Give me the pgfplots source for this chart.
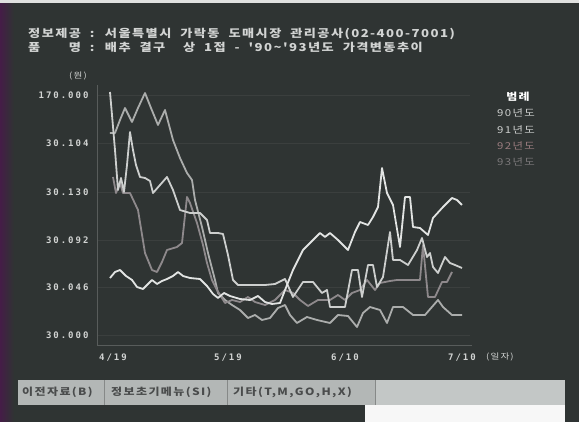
\documentclass[border=0pt]{standalone}
\usepackage{fontspec}
\usepackage{pgfplots}
\pgfplotsset{compat=1.18}
\newfontfamily\kr[FakeStretch=1.2,LetterSpace=14]{Noto Sans CJK KR}
\newfontfamily\krt[FakeStretch=1.2,LetterSpace=13,WordSpace=2.0]{Noto Sans CJK KR}
\newfontfamily\mono[LetterSpace=22]{DejaVu Sans Mono}
\definecolor{bg}{HTML}{2F3433}
\definecolor{txt}{HTML}{D2D4D3}
\definecolor{gridc}{HTML}{3B3F3E}
\definecolor{axc}{HTML}{585C5B}
\definecolor{cA}{HTML}{E2E4E3}
\definecolor{cB}{HTML}{CDCFCE}
\definecolor{cC}{HTML}{8E898C}
\definecolor{cD}{HTML}{ABADAC}
\definecolor{barc}{HTML}{B3B7B6}
\definecolor{barc2}{HTML}{C3C7C6}
\definecolor{bartxt}{HTML}{4A4C4C}
\newlength{\mylen}
\begin{document}
\begin{tikzpicture}[x=1pt,y=1pt]
\fill[bg] (0,0) rectangle (579,422);
\shade[left color=black!25!violet!45!bg, right color=bg] (0,0) rectangle (14,422);
\fill[white!85!bg] (0,419) rectangle (579,422);
% titles
\node[anchor=base west, inner sep=0, text=txt, font=\krt\bfseries\fontsize{11}{12}\selectfont] at (28,384)
  {정보제공 : 서울특별시 가락동 도매시장 관리공사(02-400-7001)};
\node[anchor=base west, inner sep=0, text=txt, font=\krt\bfseries\fontsize{11}{12}\selectfont] at (28,370)
  {\settowidth{\mylen}{정보제공}\makebox[\mylen][s]{품\hfill 명} : 배추 결구\ \ 상 1접 - '90\textasciitilde'93년도 가격변동추이};
\node[anchor=center, text=txt, font=\kr\fontsize{8}{9}\selectfont] at (78,346) {(원)};
\begin{axis}[
  at={(97pt,77pt)}, anchor=south west, scale only axis,
  width=373pt, height=260pt,
  xmin=97, xmax=470, ymin=85, ymax=345, y dir=reverse,
  axis line style={draw=none},
  major tick length=0pt,
  ytick={95,143,192,240,287,335},
  yticklabels={170.000,30.104,30.130,30.092,30.046,30.000},
  xtick={113,228,345,462},
  xticklabels={4/19,5/19,6/10,7/10},
  tick label style={font=\mono\bfseries\fontsize{9}{10}\selectfont, text=txt},
  yticklabel style={xshift=-5pt},
  xticklabel style={yshift=-5pt},
  ymajorgrids, grid style={gridc, line width=0.5pt},
  clip=false,
  every axis plot/.append style={line width=1.8pt, line join=round, mark=none},
]
% 93
\addplot[cD] coordinates {(110,133) (115,133) (120,120) (125,108) (132,122) (138,108) (145,93) (151,108) (158,125) (165,110) (173,140) (180,158) (187,173) (192,180) (195,200) (202,227) (208,253) (215,280) (218,293) (225,300) (232,305) (240,310) (248,318) (255,315) (262,320) (270,318) (278,308) (285,305) (290,315) (297,323) (307,317) (317,320) (330,323) (338,315) (348,316) (357,327) (363,313) (370,307) (380,310) (387,323) (393,307) (403,307) (413,315) (425,315) (438,300) (443,307) (452,315) (462,315)};
% 92
\addplot[cC] coordinates {(113,177) (116,193) (120,183) (123,193) (130,193) (138,210) (145,253) (152,270) (157,272) (162,262) (167,250) (177,247) (182,243) (187,197) (190,203) (197,223) (203,245) (207,263) (212,280) (217,290) (225,303) (232,300) (240,302) (248,297) (255,302) (265,305) (275,300) (285,290) (293,293) (300,300) (308,306) (318,300) (330,300) (338,295) (345,300) (352,293) (360,290) (367,280) (375,290) (380,283) (390,281) (397,280) (420,280) (423,245) (428,297) (435,297) (442,282) (447,282) (452,272)};
% 91
\addplot[cB] coordinates {(110,92) (112,115) (115,150) (118,190) (121,178) (124,192) (127,165) (130,132) (133,150) (136,165) (140,177) (145,178) (150,181) (153,193) (160,185) (167,177) (173,190) (180,210) (190,213) (200,213) (207,220) (210,233) (218,233) (223,234) (228,255) (233,280) (238,285) (245,285) (255,285) (265,285) (275,284) (285,279) (293,297) (303,282) (313,282) (322,293) (327,290) (330,307) (345,307) (352,270) (358,270) (362,297) (368,265) (373,265) (377,287) (383,277) (390,232) (393,260) (400,260) (408,265) (417,250) (422,238) (427,257) (430,253) (433,267) (438,273) (445,257) (450,263) (455,265) (462,268)};
% 90
\addplot[cA] coordinates {(110,278) (115,272) (120,270) (126,276) (132,280) (137,287) (143,289) (148,284) (152,280) (157,284) (162,281) (167,279) (173,276) (178,272) (183,276) (190,278) (200,279) (207,286) (213,294) (218,298) (224,293) (230,296) (240,299) (250,300) (258,296) (265,302) (272,304) (280,303) (287,285) (293,270) (303,250) (313,240) (320,233) (325,237) (330,233) (338,240) (348,250) (355,232) (360,222) (368,225) (373,217) (378,207) (382,168) (387,193) (393,205) (400,247) (405,197) (410,197) (413,227) (420,228) (428,235) (433,218) (443,207) (452,198) (457,200) (462,205)};
\end{axis}
% axis lines
\draw[axc, line width=0.8pt] (97,77) -- (97,337);
\draw[axc, line width=0.8pt] (97,77) -- (472,77);
\node[anchor=base west, inner sep=0, text=txt, font=\kr\fontsize{8}{9}\selectfont] at (486,62) {(일자)};
% legend
\node[text=white, font=\kr\bfseries\fontsize{10}{11}\selectfont] at (518,325) {범례};
\node[text=cB, font=\kr\fontsize{9.5}{11}\selectfont] at (516,309) {90년도};
\node[text=cB, font=\kr\fontsize{9.5}{11}\selectfont] at (516,292) {91년도};
\node[text=cC!90!red, font=\kr\fontsize{9.5}{11}\selectfont] at (516,276) {92년도};
\node[text=cC!80!bg, font=\kr\fontsize{9.5}{11}\selectfont] at (516,260) {93년도};
% bottom menu bar
\fill[barc] (18,17) rectangle (565,42);
\fill[barc2] (375,17) rectangle (565,42);
\draw[barc!75!black, line width=0.8pt] (104,17) -- (104,42);
\draw[barc!75!black, line width=0.8pt] (227,17) -- (227,42);
\draw[barc!75!black, line width=0.8pt] (375,17) -- (375,42);
\fill[white!94!gray] (365,0) rectangle (565,17);
\node[anchor=base west, inner sep=0, text=bartxt, font=\kr\bfseries\fontsize{10}{11}\selectfont] at (22,26) {이전자료(B)};
\node[anchor=base west, inner sep=0, text=bartxt, font=\kr\bfseries\fontsize{10}{11}\selectfont] at (111,26) {정보초기메뉴(SI)};
\node[anchor=base west, inner sep=0, text=bartxt, font=\kr\bfseries\fontsize{10}{11}\selectfont] at (233,26) {기타(T,M,GO,H,X)};
\end{tikzpicture}
\end{document}
